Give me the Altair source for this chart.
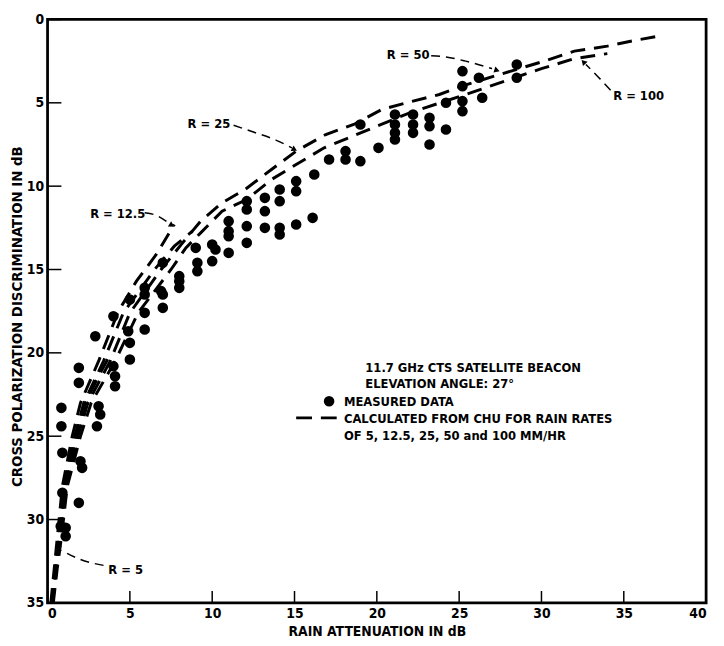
import altair as alt
import pandas as pd

FONT = "'Liberation Sans Narrow', 'DejaVu Sans Condensed', 'Roboto Condensed', sans-serif"

# ---------------- measured data (rain attenuation dB, XPD dB) ----------------
meas_x = [0.84, 0.84, 0.9, 0.9, 0.8, 1.1, 1.1, 1.9, 2.0, 2.1, 3.1, 3.2, 3.0,
          1.9, 1.9, 2.9, 4.0, 5.0, 4.0, 4.1, 4.1, 5.0, 4.9, 5.0,
          5.9, 5.9, 5.9, 5.9, 7.0, 6.9, 7.0, 7.0, 8.0, 8.0, 8.0,
          9.0, 9.1, 9.1, 10.0, 10.2, 10.0, 11.0, 11.0, 11.0, 11.0,
          12.1, 12.1, 12.1, 12.1, 13.2, 13.2, 13.2, 14.1, 14.1, 14.1, 14.1,
          15.1, 15.1, 15.1, 16.2, 16.1, 17.1, 18.1, 18.1, 19.0, 19.0,
          20.1, 21.1, 21.1, 21.1, 21.1, 22.2, 22.2, 22.2, 23.2, 23.2, 23.2,
          24.2, 24.2, 25.2, 25.2, 25.2, 25.2, 26.2, 26.4, 28.5, 28.5]
meas_y = [23.3, 24.4, 26.0, 28.4, 30.4, 30.5, 31.0, 29.0, 26.5, 26.9, 23.2, 23.7, 24.4,
          20.9, 21.8, 19.0, 17.8, 16.8, 20.8, 21.4, 22.0, 20.4, 18.7, 19.4,
          18.6, 17.6, 16.1, 16.5, 17.3, 16.3, 16.5, 14.6, 15.4, 15.7, 16.1,
          13.7, 14.6, 15.1, 13.5, 13.8, 14.5, 12.1, 12.7, 13.0, 14.0,
          10.9, 11.4, 12.4, 13.4, 10.7, 11.5, 12.5, 10.2, 10.9, 12.5, 12.9,
          9.7, 10.3, 12.3, 9.3, 11.9, 8.4, 7.9, 8.4, 8.5, 6.3,
          7.7, 5.7, 6.3, 6.8, 7.2, 5.7, 6.3, 6.8, 5.9, 6.4, 7.5,
          5.0, 6.6, 3.1, 4.0, 4.9, 5.5, 3.5, 4.7, 2.7, 3.5]

# ---------------- calculated curves (Chu) ----------------
r5_x = [0.3, 0.5, 0.75, 1.05, 1.75, 2.3, 3.1, 3.7]
r5_y = [35, 33, 31, 28, 25, 23, 21.4, 20.3]
r12_x = [0.2, 0.4, 0.6, 0.9, 1.5, 2.0, 3.1, 4.3, 5.4, 6.6, 7.7]
r12_y = [35, 33, 31, 28, 25, 23, 20.5, 17.5, 15.7, 14.1, 12.3]
r25_x = [0.25, 0.45, 0.68, 1.0, 1.65, 2.2, 3.4, 4.6, 6.5, 7.7, 8.8]
r25_y = [35, 33, 31, 28, 25, 23, 20.5, 17.6, 15, 13.6, 12.7]
r100_x = [0.3, 0.52, 0.78, 1.1, 1.85, 2.45, 3.8, 5.0, 6.9, 8.2, 9.3, 10.6, 12.0, 13.6,
          15.1, 16.9, 18.6, 20.3, 22.0, 23.8, 25.3, 27.3, 30.0, 32.0, 34.0, 35.7, 37.4]
r100_y = [35, 33, 31, 28, 25, 23, 20.5, 17.6, 15, 13.4, 12.1, 11.0, 10.2, 9.0,
          7.9, 6.9, 6.3, 5.4, 4.95, 4.5, 3.95, 3.35, 2.55, 1.9, 1.6, 1.25, 0.95]
r50_x = [0.35, 0.58, 0.85, 1.2, 2.0, 2.65, 4.1, 5.5, 7.5, 8.4, 9.3, 10.6, 12.1, 13.6,
         15.1, 16.8, 18.3, 20.0, 22.0, 24.0, 26.0, 28.5, 30.0, 32.0, 34.0]
r50_y = [35, 33, 31, 28, 25, 23, 20.5, 17.6, 15, 13.7, 12.8, 11.5, 10.8, 9.6,
         8.7, 7.7, 7.1, 6.4, 5.6, 4.95, 4.3, 3.45, 2.95, 2.35, 2.05]

# ---------------- annotations ----------------
lab_text = ["R = 5", "R = 12.5", "R = 25", "R = 50", "R = 100"]
lab_x = [4.74, 4.26, 9.8, 21.9, 35.9]
lab_y = [33.0, 11.7, 6.3, 2.14, 4.57]

arrow_x = {"R = 5": [3.4, 2.0, 0.85], "R = 12.5": [5.9, 6.6, 7.35],
           "R = 25": [11.3, 12.5, 13.9, 14.85], "R = 50": [23.3, 24.2, 25.4, 27.0],
           "R = 100": [34.2, 33.4, 32.7]}
arrow_y = {"R = 5": [32.75, 32.4, 31.85], "R = 12.5": [11.6, 11.75, 12.2],
           "R = 25": [6.35, 6.75, 7.25, 7.7], "R = 50": [2.18, 2.25, 2.5, 2.95],
           "R = 100": [4.25, 3.4, 2.7]}
head_x = [0.62, 7.55, 15.0, 27.3, 32.55]
head_y = [31.7, 12.35, 7.8, 3.05, 2.55]
head_angle = [295, 121, 118, 108, 317]

legend_lines = ["11.7 GHz CTS SATELLITE BEACON", "ELEVATION ANGLE: 27°", "MEASURED DATA",
                "CALCULATED FROM CHU FOR RAIN RATES", "OF 5, 12.5, 25, 50 and 100 MM/HR"]
legend_x = [19.3, 19.3, 18.0, 18.0, 18.0]
legend_y = [20.9, 21.9, 22.95, 23.95, 25.0]
legend_dot = [17.1, 22.9]
legend_dash_x = [15.1, 17.8]
legend_dash_y = [23.9, 23.9]

x_ticks = [0, 5, 10, 15, 20, 25, 30, 35, 40]
y_ticks = [0, 5, 10, 15, 20, 25, 30, 35]

# ---------------- tables ----------------
rows = []
for name, xs_, ys_ in [("5", r5_x, r5_y), ("12.5", r12_x, r12_y), ("25", r25_x, r25_y),
                       ("50", r50_x, r50_y), ("100", r100_x, r100_y)]:
    for i, (a, b) in enumerate(zip(xs_, ys_)):
        rows.append({"series": name, "i": i, "x": a, "y": b})
curves = pd.DataFrame(rows)
meas = pd.DataFrame({"x": meas_x, "y": meas_y})

arows = []
for k in arrow_x:
    for i, (a, b) in enumerate(zip(arrow_x[k], arrow_y[k])):
        arows.append({"g": k, "i": i, "x": a, "y": b})
arrows = pd.DataFrame(arows)
heads = pd.DataFrame({"x": head_x, "y": head_y, "ang": head_angle})
labels = pd.DataFrame({"t": lab_text, "x": lab_x, "y": lab_y})
legend = pd.DataFrame({"t": legend_lines, "x": legend_x, "y": legend_y})
ldot = pd.DataFrame({"x": [legend_dot[0]], "y": [legend_dot[1]]})
ldash = pd.DataFrame({"x": legend_dash_x, "y": legend_dash_y})
xt = pd.DataFrame({"v": x_ticks})
yt = pd.DataFrame({"v": y_ticks})

xs = alt.Scale(domain=[0, 40], nice=False, zero=False)
ys = alt.Scale(domain=[0, 35], nice=False, zero=False, reverse=True)

X = alt.X("x:Q", scale=xs, axis=alt.Axis(
    title="RAIN ATTENUATION IN dB", values=x_ticks, format="d", titleFontSize=14,
    titleX=333, titleY=29, titleBaseline="middle", titleAlign="center"))
Y = alt.Y("y:Q", scale=ys, axis=alt.Axis(
    title="CROSS POLARIZATION DISCRIMINATION IN dB", values=y_ticks, format="d",
    titleFontSize=15, titleX=-31, titleY=300, titleAngle=-90,
    titleBaseline="middle", titleAlign="center"))

curve_layer = alt.Chart(curves).mark_line(
    color="black", strokeWidth=3, strokeDash=[15, 9]).encode(
    x=X, y=Y, detail="series:N", order="i:Q")

dots = alt.Chart(meas).mark_circle(color="black", size=115, opacity=1).encode(x="x:Q", y="y:Q")

arrow_layer = alt.Chart(arrows).mark_line(
    color="black", strokeWidth=1.5, strokeDash=[9, 6], interpolate="monotone").encode(
    x="x:Q", y="y:Q", detail="g:N", order="i:Q")

head_layer = alt.Chart(heads).mark_point(
    shape="triangle-up", filled=True, color="black", size=40, opacity=1).encode(
    x="x:Q", y="y:Q", angle=alt.Angle("ang:Q", scale=None))

label_layer = alt.Chart(labels).mark_text(
    font=FONT, fontSize=13, fontWeight="bold", color="black", align="center",
    baseline="middle").encode(x="x:Q", y="y:Q", text="t:N")

legend_layer = alt.Chart(legend).mark_text(
    font=FONT, fontSize=13, fontWeight="bold", color="black", align="left",
    baseline="middle").encode(x="x:Q", y="y:Q", text="t:N")

ldot_layer = alt.Chart(ldot).mark_circle(color="black", size=115, opacity=1).encode(
    x="x:Q", y="y:Q")
ldash_layer = alt.Chart(ldash).mark_line(
    color="black", strokeWidth=3, strokeDash=[16, 9]).encode(x="x:Q", y="y:Q")

xtick_layer = alt.Chart(xt).mark_rule(color="black", strokeWidth=1.5).encode(
    x="v:Q", y=alt.value(590), y2=alt.value(578))
ytick_layer = alt.Chart(yt).mark_rule(color="black", strokeWidth=1.5).encode(
    y="v:Q", x=alt.value(0), x2=alt.value(14))

chart = alt.layer(
    xtick_layer, ytick_layer, curve_layer, dots, arrow_layer, head_layer,
    label_layer, legend_layer, ldot_layer, ldash_layer
).properties(
    width=666, height=590,
    autosize=alt.AutoSizeParams(type="none"),
    padding={"left": 40, "top": 8, "right": 10, "bottom": 40},
).configure_view(
    stroke="black", strokeWidth=2.8
).configure_axis(
    grid=False, domain=False, ticks=False, labelFont=FONT, labelFontSize=14,
    labelFontWeight="bold", labelColor="black", labelPadding=4,
    titleFont=FONT, titleFontWeight="bold", titleColor="black",
)

chart.save("out.html", embed_options={"renderer": "svg", "actions": False})
